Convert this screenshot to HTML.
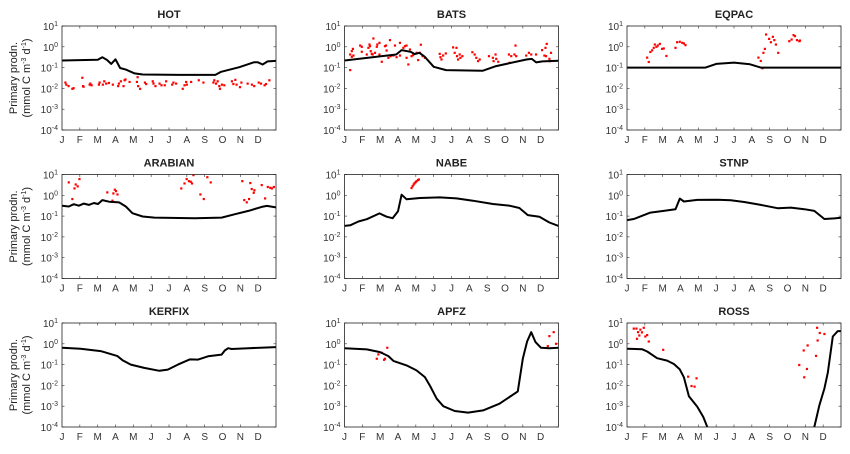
<!DOCTYPE html>
<html><head><meta charset="utf-8">
<style>
html,body{margin:0;padding:0;background:#fff;}
svg{display:block;font-family:"Liberation Sans",Arial,sans-serif;}
</style></head>
<body>
<svg id="chart" width="850" height="454" viewBox="0 0 850 454" xmlns="http://www.w3.org/2000/svg"></svg>
<script>
// Data: [month (0-12), log10(primary production)]
const monthLabels = ['J','F','M','A','M','J','J','A','S','O','N','D'];
const decadeTicks = [1,0,-1,-2,-3,-4];
const panelTitles = ['HOT','BATS','EQPAC','ARABIAN','NABE','STNP','KERFIX','APFZ','ROSS'];

const hotLine = [[0,-0.66],[2.01,-0.62],[2.26,-0.5],[2.52,-0.63],[2.76,-0.82],[3.0,-0.6],[3.26,-1.02],[3.6,-1.1],[4.07,-1.28],[4.53,-1.33],[6.59,-1.35],[8.6,-1.35],[8.92,-1.2],[9.94,-0.98],[10.78,-0.74],[10.97,-0.74],[11.25,-0.85],[11.53,-0.7],[12,-0.68]];
const hotDots = [[0.19,-1.72],[0.24,-1.82],[0.37,-1.89],[0.58,-2.02],[0.65,-1.99],[1.14,-1.49],[1.18,-1.89],[1.21,-1.92],[1.55,-1.82],[1.59,-1.77],[1.66,-1.85],[2.07,-1.82],[2.11,-1.72],[2.29,-1.82],[2.37,-1.66],[2.48,-1.77],[2.63,-1.74],[2.85,-1.82],[3.15,-1.89],[3.19,-1.77],[3.3,-1.66],[3.45,-1.89],[3.51,-1.61],[3.56,-1.57],[3.79,-1.69],[4.2,-1.69],[4.24,-1.46],[4.27,-1.89],[4.38,-2.02],[4.65,-1.72],[4.72,-1.79],[5.09,-1.66],[5.13,-1.77],[5.24,-1.89],[5.47,-1.77],[5.58,-1.85],[5.76,-1.85],[5.84,-1.66],[6.18,-1.82],[6.25,-1.72],[6.4,-1.77],[6.77,-2.02],[6.87,-1.85],[6.96,-1.69],[7.0,-1.82],[7.24,-1.69],[7.67,-1.61],[7.93,-1.72],[8.49,-1.72],[8.54,-1.61],[8.64,-1.77],[8.73,-1.66],[8.82,-1.89],[8.86,-2.02],[8.97,-1.82],[9.1,-1.85],[9.53,-1.66],[9.61,-1.79],[9.72,-1.59],[9.79,-1.82],[9.98,-1.94],[10.06,-1.72],[10.41,-1.77],[10.65,-1.82],[10.78,-1.89],[11.03,-1.72],[11.16,-1.77],[11.36,-1.85],[11.44,-1.79],[11.63,-1.61]];

const batsLine = [[0,-0.66],[2.9,-0.37],[3.2,-0.16],[3.7,-0.24],[3.95,-0.35],[4.2,-0.29],[4.5,-0.48],[5.0,-0.96],[5.7,-1.12],[7.76,-1.15],[8.5,-0.93],[10.2,-0.61],[10.5,-0.58],[10.75,-0.75],[11.1,-0.7],[12,-0.67]];
const batsDots = [[0.32,-1.12],[0.32,-0.37],[0.41,-0.21],[0.47,-0.1],[0.41,-0.48],[0.5,-0.42],[0.88,0.06],[0.97,0],[0.97,-0.24],[1.25,-0.37],[1.34,-0.05],[1.4,0.11],[1.43,0.03],[1.47,-0.21],[1.53,-0.34],[1.58,-0.37],[1.62,0.4],[1.71,-0.29],[1.81,0],[1.84,0.11],[1.96,0.19],[1.96,-0.37],[2.09,-0.72],[2.27,0.03],[2.33,0.06],[2.36,-0.18],[2.46,-0.53],[2.55,0.32],[2.59,-0.45],[2.74,-0.42],[2.83,0.06],[2.92,-0.5],[3.11,0.19],[3.11,-0.42],[3.3,-0.05],[3.39,0.03],[3.48,0.06],[3.48,-0.53],[3.58,-0.85],[3.67,-0.13],[3.76,-0.45],[3.85,-0.4],[4.04,-0.29],[4.13,-0.64],[4.23,-0.29],[4.28,0.1],[4.38,-0.45],[4.51,-0.53],[5.34,-0.34],[5.38,-0.5],[5.44,-0.61],[5.53,-0.42],[5.68,-0.32],[6.09,-0.03],[6.18,-0.29],[6.28,-0.05],[6.31,-0.45],[6.37,-0.61],[6.46,-0.37],[6.5,-0.53],[6.61,-0.45],[7.17,-0.26],[7.3,-0.37],[7.39,-0.53],[7.49,-0.69],[7.58,-0.61],[8.1,-0.45],[8.32,-0.53],[8.36,-0.69],[8.47,-0.37],[8.51,-0.58],[8.62,-0.72],[9.22,-0.37],[9.26,-0.77],[9.35,-0.45],[9.53,-0.37],[9.59,0.06],[9.63,-0.45],[10.19,-0.42],[10.34,-0.29],[10.47,-0.37],[10.74,-0.37],[11.08,-0.16],[11.21,-0.42],[11.27,-0.05],[11.3,-0.45],[11.34,0.14],[11.49,-0.58],[11.58,-0.29],[11.53,-0.69]];

const eqpacLine = [[0,-1],[4.4,-1],[5.0,-0.82],[6.0,-0.76],[6.9,-0.84],[7.5,-1],[12,-1]];
const eqpacDots = [[1.13,-0.52],[1.22,-0.73],[1.31,-0.25],[1.41,-0.17],[1.5,-0.05],[1.56,0.11],[1.65,0],[1.73,0.06],[1.84,0.14],[1.97,-0.1],[2.06,-0.08],[2.21,-0.44],[2.72,-0.05],[2.81,0.22],[2.96,0.24],[3.1,0.19],[3.19,0.16],[3.28,0.08],[7.37,-0.52],[7.5,-0.68],[7.6,-1.03],[7.65,-0.29],[7.73,-0.1],[7.8,0.59],[7.97,0.38],[8.07,0.22],[8.18,0.48],[8.26,0.32],[8.35,0.11],[8.48,-0.29],[9.1,0.27],[9.23,0.35],[9.34,0.56],[9.42,0.51],[9.53,0.32],[9.66,0.27],[9.7,0.3]];

const arabianLine = [[0,-0.5],[0.38,-0.54],[0.66,-0.43],[0.94,-0.5],[1.22,-0.4],[1.51,-0.46],[1.79,-0.37],[2.02,-0.42],[2.26,-0.23],[2.64,-0.31],[3.2,-0.34],[3.58,-0.54],[3.95,-0.86],[4.52,-1.02],[5.18,-1.07],[7.44,-1.1],[8.95,-1.07],[9.7,-0.91],[10.45,-0.75],[11.2,-0.56],[11.49,-0.51],[12,-0.58]];
const arabianDots = [[0.38,0.62],[0.58,-0.18],[0.7,0.33],[0.77,0.52],[0.88,0.43],[0.98,0.78],[2.54,0.14],[2.83,-0.26],[2.88,0.09],[2.96,0.27],[3.03,0.2],[3.11,0.04],[6.69,0.33],[6.87,0.57],[6.99,0.78],[7.12,0.68],[7.22,0.65],[7.29,0.57],[7.37,0.97],[7.76,0.04],[7.95,-0.18],[8.15,0.87],[8.34,0.62],[10.11,0.68],[10.22,-0.23],[10.36,-0.34],[10.49,-0.18],[10.56,0.59],[10.64,0.3],[10.75,0.12],[10.79,0.24],[11.2,0.49],[11.39,-0.15],[11.54,0.4],[11.68,0.36],[11.77,0.33],[11.88,0.4]];

const nabeLine = [[0,-1.47],[0.32,-1.44],[0.78,-1.26],[1.25,-1.15],[1.96,-0.87],[2.36,-1.03],[2.7,-1.1],[3.0,-0.77],[3.2,0.03],[3.48,-0.19],[4.23,-0.13],[5.34,-0.1],[6.28,-0.15],[7.2,-0.26],[8.32,-0.42],[9.26,-0.5],[9.81,-0.61],[10.28,-0.95],[10.93,-1.03],[11.49,-1.31],[12,-1.47]];
const nabeDots = [[3.76,0.35],[3.82,0.44],[3.88,0.52],[3.93,0.58],[3.99,0.63],[4.04,0.68],[4.12,0.73],[4.17,0.76]];

const stnpLine = [[0,-1.19],[0.38,-1.14],[1.31,-0.83],[2.06,-0.75],[2.72,-0.67],[2.96,-0.16],[3.19,-0.3],[3.94,-0.22],[5.07,-0.21],[5.82,-0.24],[6.57,-0.32],[7.5,-0.46],[8.44,-0.62],[9.19,-0.59],[9.94,-0.67],[10.5,-0.75],[11.07,-1.14],[11.63,-1.11],[12,-1.08]];
const stnpDots = [];

const kerfixLine = [[0,-0.19],[1.04,-0.24],[2.17,-0.35],[3.11,-0.59],[3.39,-0.79],[3.86,-1.0],[4.61,-1.16],[5.46,-1.3],[5.93,-1.24],[6.5,-1.0],[7.16,-0.75],[7.63,-0.76],[8.19,-0.6],[8.95,-0.52],[9.13,-0.32],[9.32,-0.21],[9.51,-0.25],[10.45,-0.21],[12,-0.16]];
const kerfixDots = [];

const apfzLine = [[0,-0.21],[1.25,-0.27],[1.99,-0.4],[2.46,-0.59],[2.74,-0.82],[3.48,-1.04],[4.04,-1.28],[4.51,-1.6],[4.8,-2.03],[5.17,-2.64],[5.54,-3.0],[6.18,-3.23],[6.93,-3.31],[7.77,-3.2],[8.69,-2.88],[9.72,-2.29],[10.0,-0.72],[10.24,0.11],[10.47,0.56],[10.71,0.08],[11.02,-0.19],[11.49,-0.21],[12,-0.19]];
const apfzDots = [[1.81,-0.72],[1.9,-0.51],[2.09,-0.43],[2.22,-0.77],[2.27,-0.72],[2.4,-0.19],[11.4,-0.11],[11.49,0.37],[11.73,0.56],[11.86,0]];

const rossLine1 = [[0,-0.24],[0.84,-0.26],[1.13,-0.37],[1.69,-0.69],[2.25,-0.81],[2.63,-0.97],[2.96,-1.23],[3.19,-1.61],[3.47,-2.52],[3.94,-3.03],[4.28,-3.52],[4.5,-4],[4.6,-4.2]];
const rossLine2 = [[10.45,-4.2],[10.5,-4],[10.79,-2.95],[11.07,-2.15],[11.26,-1.39],[11.54,0.35],[11.82,0.61],[12,0.61]];
const rossDots = [[0.38,0.73],[0.53,0.73],[0.56,0.24],[0.62,0.56],[0.69,0.4],[0.75,0.68],[0.84,0.55],[0.94,0.77],[1.03,0.35],[1.13,0.42],[1.22,0.11],[2.03,-0.29],[3.43,-1.58],[3.62,-2.03],[3.79,-2.06],[3.9,-1.66],[9.66,-1.02],[9.91,-0.32],[9.94,-1.61],[10.09,-1.21],[10.13,-0.08],[10.6,-0.58],[10.66,0.77],[10.69,0.16],[10.81,0.52],[11.07,0.47]];

const panelLines = [[hotLine],[batsLine],[eqpacLine],[arabianLine],[nabeLine],[stnpLine],[kerfixLine],[apfzLine],[rossLine1,rossLine2]];
const panelDots = [hotDots,batsDots,eqpacDots,arabianDots,nabeDots,stnpDots,kerfixDots,apfzDots,rossDots];

const NS = 'http://www.w3.org/2000/svg';
const svg = document.getElementById('chart');
const colX = [62, 344.5, 627], rowY = [26, 174.5, 323], W = 214, H = 104;
function mk(tag, attrs, parent){ const e=document.createElementNS(NS,tag); for(const k in attrs) e.setAttribute(k,attrs[k]); (parent||svg).appendChild(e); return e; }
const defs = mk('defs',{});

panelTitles.forEach((title, i) => {
  const x0 = colX[i%3], y0 = rowY[Math.floor(i/3)];
  const xs = m => x0 + m / 12 * W;
  const ys = v => y0 + H - (v + 4) / 5 * H;
  const slug = title.toLowerCase();
  const g = mk('g',{});
  
  
  const cp = mk('clipPath',{id:'clip'+i}, defs);
  mk('rect',{x:x0,y:y0,width:W,height:H}, cp);

  const t = mk('text',{x:x0+W/2,y:y0-8,'text-anchor':'middle','font-size':'11','font-weight':'bold',fill:'#222'}, g);
  t.textContent = title;
  
  

  // month ticks
  monthLabels.forEach((lab, k) => {
    const x = xs(k);
    if (k > 0) {
      mk('line',{x1:x,x2:x,y1:y0+H,y2:y0+H-2.5,stroke:'#333','stroke-width':0.6}, g);
      mk('line',{x1:x,x2:x,y1:y0,y2:y0+2.5,stroke:'#333','stroke-width':0.6}, g);
    }
    const tl = mk('text',{x:x,y:y0+H+13,'text-anchor':'middle','font-size':'10',fill:'#333'}, g);
    tl.textContent = lab;
    
    
  });
  // decade ticks
  decadeTicks.forEach(d => {
    const y = ys(d);
    mk('line',{x1:x0,x2:x0+2.5,y1:y,y2:y,stroke:'#333','stroke-width':0.6}, g);
    mk('line',{x1:x0+W,x2:x0+W-2.5,y1:y,y2:y,stroke:'#333','stroke-width':0.6}, g);
    const tl = mk('text',{x:x0-4,y:y+4,'text-anchor':'end','font-size':'10',fill:'#333'}, g);
    
    
    const a = document.createElementNS(NS,'tspan'); a.textContent='10'; tl.appendChild(a);
    const b = document.createElementNS(NS,'tspan'); b.setAttribute('dy','-4'); b.setAttribute('font-size','7'); b.textContent = String(d); tl.appendChild(b);
  });

  // dots
  const dg = mk('g',{'clip-path':'url(#clip'+i+')'}, g);
  panelDots[i].forEach(p => {
    const c = mk('rect',{x:xs(p[0])-1.1,y:ys(p[1])-1.1,width:2.2,height:2.2,fill:'#f00'}, dg);
    
    
  });
  // lines
  panelLines[i].forEach(line => {
    const pl = mk('polyline',{points: line.map(p => xs(p[0]).toFixed(1)+','+ys(p[1]).toFixed(1)).join(' '), fill:'none', stroke:'#000','stroke-width':2,'stroke-linejoin':'round'}, dg);
    
    
  });

  const box = mk('rect',{x:x0,y:y0,width:W,height:H,fill:'none',stroke:'#222','stroke-width':0.8}, g);
  
  

  if (i % 3 === 0) {
    const cy = y0 + H/2;
    const yt = mk('text',{x:0,y:0,'text-anchor':'middle','font-size':'11',fill:'#222',transform:'translate(17,'+cy+') rotate(-90)'}, g);
    yt.textContent = 'Primary prodn.';
    
    
    const yt2 = mk('text',{x:0,y:0,'text-anchor':'middle','font-size':'11',fill:'#222',transform:'translate(30,'+cy+') rotate(-90)'}, g);
    
    
    const parts = [['(mmol C m',0],['-3',-4],[' d',4],['-1',-4],[')',4]];
    parts.forEach(pp => { const s=document.createElementNS(NS,'tspan'); s.textContent=pp[0]; if(pp[1]) s.setAttribute('dy',pp[1]); if(pp[1]<0) s.setAttribute('font-size','7'); yt2.appendChild(s); });
  }
});
</script>
</body></html>
